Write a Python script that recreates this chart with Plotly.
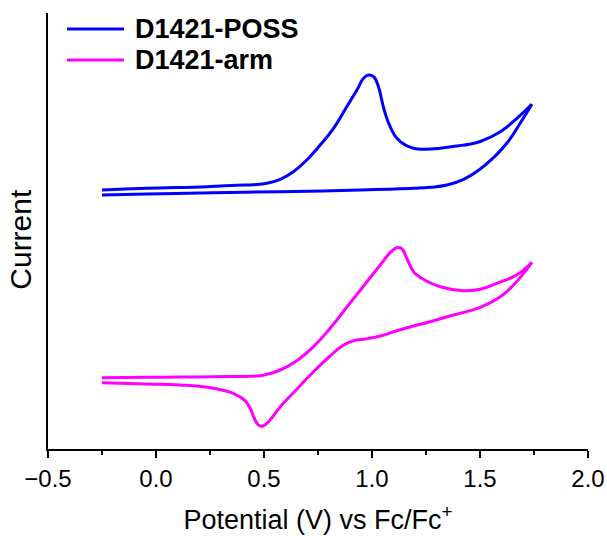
import plotly.graph_objects as go

# Cyclic voltammograms, potential in V vs Fc/Fc+, current in arbitrary units (offset for clarity)
# D1421-POSS: forward (anodic) and reverse sweeps
poss_fwd_v = [-0.25, -0.043, 0.235, 0.374, 0.451, 0.513, 0.575, 0.636, 0.698, 0.760,
              0.822, 0.883, 0.930, 0.961, 0.984, 1.007, 1.030, 1.045, 1.061, 1.084,
              1.115, 1.154, 1.192, 1.238, 1.316, 1.393, 1.450, 1.501, 1.594, 1.671,
              1.740]
poss_fwd_i = [2.59, 2.607, 2.623, 2.637, 2.643, 2.657, 2.697, 2.773, 2.89, 3.04,
              3.207, 3.423, 3.59, 3.707, 3.74, 3.723, 3.623, 3.49, 3.357, 3.223,
              3.107, 3.04, 3.007, 2.997, 3.007, 3.03, 3.048, 3.075, 3.173, 3.307,
              3.447]
poss_rev_v = [1.740, 1.686, 1.624, 1.563, 1.501, 1.424, 1.347, 1.269, 1.192, 0.945,
              0.575, 0.266, -0.043, -0.25]
poss_rev_i = [3.447, 3.257, 3.057, 2.915, 2.80, 2.697, 2.64, 2.617, 2.607, 2.59,
              2.573, 2.563, 2.55, 2.54]

# D1421-arm: forward (anodic) and reverse sweeps
arm_fwd_v = [-0.25, -0.043, 0.111, 0.266, 0.482, 0.513, 0.575, 0.652, 0.729, 0.806,
             0.883, 0.961, 1.038, 1.084, 1.115, 1.138, 1.161, 1.192, 1.215, 1.238,
             1.316, 1.424, 1.501, 1.578, 1.655, 1.702, 1.740]
arm_fwd_i = [0.713, 0.717, 0.72, 0.723, 0.733, 0.747, 0.79, 0.883, 1.023, 1.207,
             1.417, 1.63, 1.84, 1.963, 2.013, 2.003, 1.907, 1.773, 1.73, 1.697,
             1.623, 1.583, 1.597, 1.657, 1.723, 1.79, 1.867]
arm_rev_v = [1.740, 1.702, 1.655, 1.594, 1.501, 1.377, 1.269, 1.192, 1.115, 1.038,
             0.961, 0.914, 0.868, 0.806, 0.729, 0.652, 0.575, 0.528, 0.494, 0.474,
             0.455, 0.436, 0.412, 0.358, 0.266, 0.111, -0.043, -0.25]
arm_rev_i = [1.867, 1.757, 1.64, 1.523, 1.417, 1.34, 1.273, 1.23, 1.183, 1.13,
             1.097, 1.083, 1.04, 0.93, 0.773, 0.597, 0.423, 0.29, 0.23, 0.24,
             0.307, 0.407, 0.483, 0.557, 0.607, 0.64, 0.65, 0.663]

x_ticks = [-0.5, 0.0, 0.5, 1.0, 1.5, 2.0]
x_tick_text = ["\u22120.5", "0.0", "0.5", "1.0", "1.5", "2.0"]

series = [
    ("D1421-POSS", "#0000FF", [(poss_fwd_v, poss_fwd_i), (poss_rev_v, poss_rev_i)]),
    ("D1421-arm", "#FF00FF", [(arm_fwd_v, arm_fwd_i), (arm_rev_v, arm_rev_i)]),
]

FONT = "Liberation Sans, Arial, sans-serif"

fig = go.Figure()
for name, color, sweeps in series:
    for v, i in sweeps:
        fig.add_trace(go.Scatter(
            x=v, y=i, mode="lines", name=name, legendgroup=name,
            showlegend=False,
            line=dict(color=color, width=3, shape="spline", smoothing=1.3),
        ))

# Legend drawn as line samples with labels in the upper-left corner
legend_y = [0.9633, 0.8922]
for (name, color, _), ly in zip(series, legend_y):
    fig.add_shape(type="line", xref="paper", yref="paper",
                  x0=0.0352, x1=0.1407, y0=ly, y1=ly,
                  line=dict(color=color, width=3))
    fig.add_annotation(xref="paper", yref="paper", x=0.1574, y=ly,
                       xanchor="left", yanchor="middle", showarrow=False,
                       text="<b>%s</b>" % name,
                       font=dict(family=FONT, size=27, color="black"))

# Vertical axis label
fig.add_annotation(xref="paper", yref="paper", x=-0.05, y=0.48,
                   xanchor="center", yanchor="middle", showarrow=False,
                   textangle=-90, text="Current",
                   font=dict(family=FONT, size=30, color="black"))

fig.update_layout(
    width=607, height=536,
    margin=dict(l=48, r=19, t=13, b=87, autoexpand=False),
    plot_bgcolor="white", paper_bgcolor="white",
    showlegend=False,
    font=dict(family=FONT, color="black"),
)
fig.update_xaxes(
    range=[-0.5, 2.0], tickvals=x_ticks, ticktext=x_tick_text,
    ticks="outside", ticklen=7, tickwidth=1.5, tickcolor="black",
    minor=dict(dtick=0.25, tick0=0, ticks="outside", ticklen=4,
               tickwidth=1.5, tickcolor="black", showgrid=False),
    showline=True, linecolor="black", linewidth=1.5,
    showgrid=False, zeroline=False, automargin=False,
    tickfont=dict(family=FONT, size=24, color="black"),
    title=dict(text="Potential (V) vs Fc/Fc<sup>+</sup>",
               font=dict(family=FONT, size=27, color="black"), standoff=20),
)
fig.update_yaxes(
    range=[0, 4.36], showticklabels=False, ticks="",
    showline=True, linecolor="black", linewidth=1.5,
    showgrid=False, zeroline=False, automargin=False,
)

fig.write_html("out.html")
